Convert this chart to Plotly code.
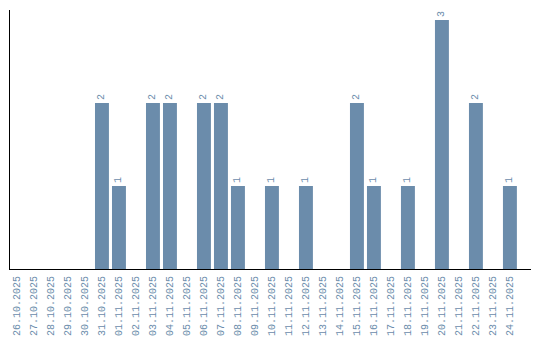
import plotly.graph_objects as go

dates = ["26.10.2025","27.10.2025","28.10.2025","29.10.2025","30.10.2025","31.10.2025",
         "01.11.2025","02.11.2025","03.11.2025","04.11.2025","05.11.2025","06.11.2025",
         "07.11.2025","08.11.2025","09.11.2025","10.11.2025","11.11.2025","12.11.2025",
         "13.11.2025","14.11.2025","15.11.2025","16.11.2025","17.11.2025","18.11.2025",
         "19.11.2025","20.11.2025","21.11.2025","22.11.2025","23.11.2025","24.11.2025"]
counts = [0,0,0,0,0,2,1,0,2,2,0,2,2,1,0,1,0,1,0,0,2,1,0,1,0,3,0,2,0,1]

color = "#6b8cab"
font_family = "Liberation Mono"
labels = [str(c) if c > 0 else "" for c in counts]
idx = list(range(len(dates)))

fig = go.Figure(go.Bar(
    x=idx, y=counts, marker=dict(color=color, line=dict(width=0)),
    text=labels, textposition="outside", textangle=-90,
    textfont=dict(family=font_family, size=10, color=color),
    cliponaxis=False, width=0.82,
))
fig.update_layout(
    width=540, height=340, margin=dict(l=10, r=9, t=10, b=71, autoexpand=False),
    paper_bgcolor="white", plot_bgcolor="white",
    showlegend=False,
    font=dict(family=font_family, size=10, color=color),
)
fig.update_xaxes(type="linear", range=[-0.41, 30.24], showline=True, linecolor="black",
                 linewidth=1, ticks="", tickangle=-90, showgrid=False, zeroline=False,
                 tickmode="array", tickvals=idx, ticktext=dates,
                 automargin=False, ticklabelstandoff=2,
                 tickfont=dict(family=font_family, size=10, color=color))
fig.update_yaxes(range=[0, 3.12], showline=True, linecolor="black", linewidth=1,
                 showticklabels=False, ticks="", showgrid=False, zeroline=False,
                 automargin=False)
fig.write_html("out.html")
